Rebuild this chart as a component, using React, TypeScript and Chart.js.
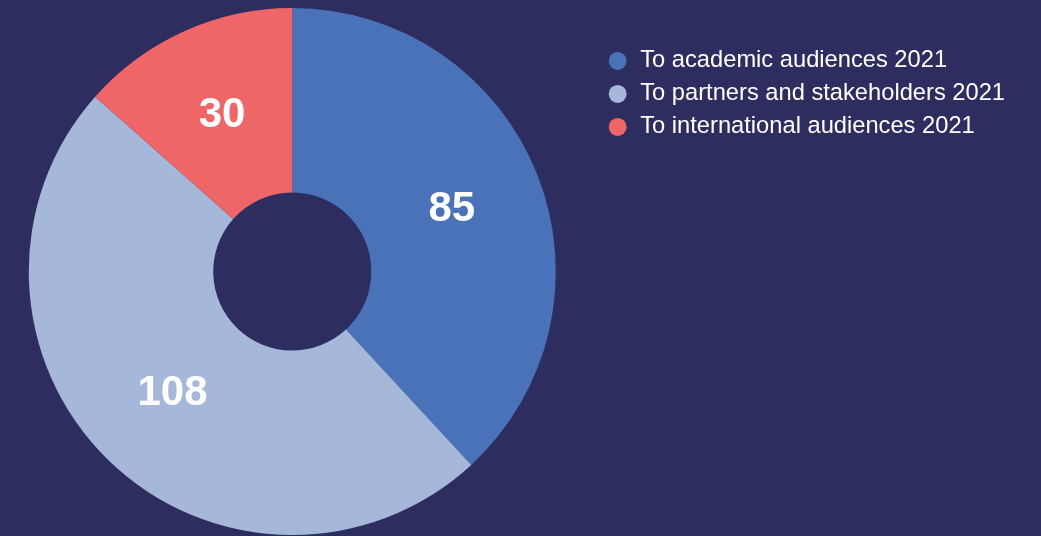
import React, { useEffect, useRef } from 'react';
import { Chart, registerables } from 'chart.js';

Chart.register(...registerables);

const categories = [
  'To academic audiences 2021',
  'To partners and stakeholders 2021',
  'To international audiences 2021',
];
const values = [85, 108, 30];
const colors = ['#4a72b8', '#a6b8da', '#ee6668'];

const FAMILY = '"Liberation Sans", Arial, Helvetica, sans-serif';

export default function App() {
  const ref = useRef<HTMLCanvasElement>(null);

  useEffect(() => {
    if (!ref.current) return;
    const labelPlugin = {
      id: 'sliceLabels',
      afterDatasetsDraw(chart: any) {
        const ctx = chart.ctx;
        const meta = chart.getDatasetMeta(0);
        ctx.save();
        ctx.font = `bold 42px ${FAMILY}`;
        ctx.fillStyle = '#ffffff';
        ctx.textAlign = 'center';
        ctx.textBaseline = 'middle';
        meta.data.forEach((arc: any, i: number) => {
          const p = arc.tooltipPosition(false);
          ctx.fillText(String(values[i]), p.x, p.y);
        });
        ctx.restore();
      },
    };

    const chart = new Chart(ref.current, {
      type: 'doughnut',
      data: {
        labels: categories,
        datasets: [
          {
            data: values,
            backgroundColor: colors,
            borderWidth: 0,
          },
        ],
      },
      options: {
        responsive: false,
        animation: false,
        cutout: '30%',
        layout: { padding: { left: 0, right: 26, top: 8, bottom: 1 } },
        plugins: {
          tooltip: { enabled: false },
          legend: {
            position: 'right',
            align: 'start',
            title: {
              display: true,
              text: '',
              font: { size: 10, lineHeight: 1 },
              padding: { top: 0, bottom: 21.75 },
            },
            labels: {
              color: '#ffffff',
              font: { family: FAMILY, size: 23.7 },
              usePointStyle: true,
              pointStyle: 'circle',
              boxWidth: 21.5,
              boxHeight: 12.7,
              padding: 9.3,
            },
          },
        },
      } as any,
      plugins: [labelPlugin],
    });
    return () => chart.destroy();
  }, []);

  return (
    <div
      style={{
        position: 'fixed',
        left: 0,
        top: 0,
        width: 1041,
        height: 536,
        overflow: 'hidden',
        background: '#2d2d5f',
      }}
    >
      <canvas
        ref={ref}
        width={1054}
        height={536}
        style={{ display: 'block', position: 'absolute', left: -13, top: 0 }}
      />
    </div>
  );
}
